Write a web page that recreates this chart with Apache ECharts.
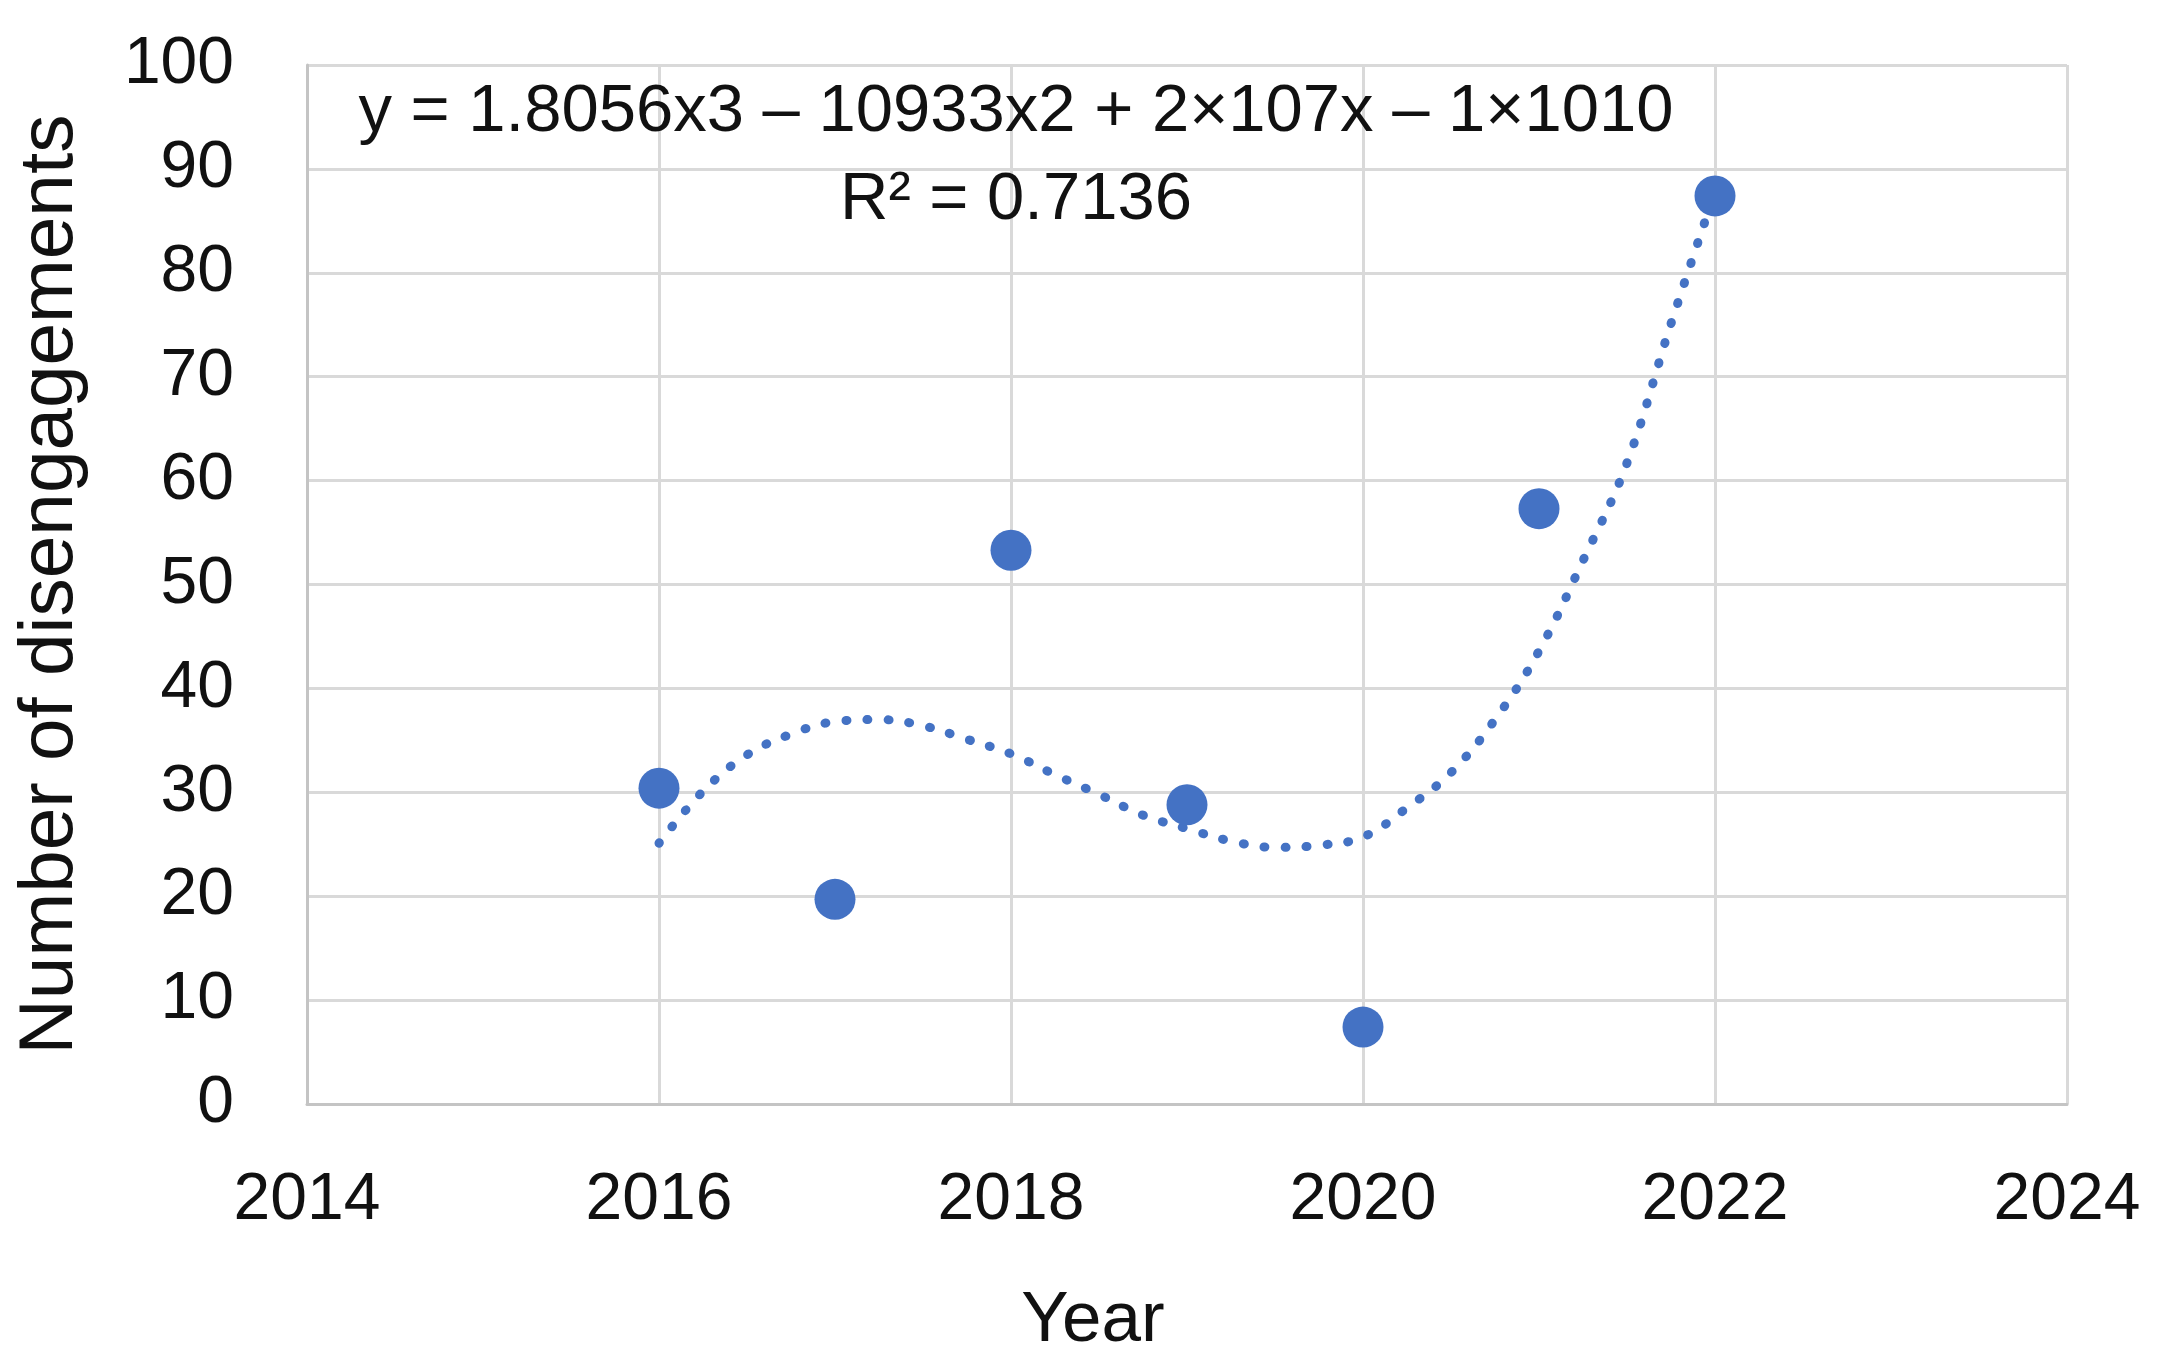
<!DOCTYPE html>
<html>
<head>
<meta charset="utf-8">
<script src="https://cdn.jsdelivr.net/npm/echarts@6/dist/echarts.min.js"></script>
<style>
html,body{margin:0;padding:0;background:#fff;}
#chart{width:2167px;height:1368px;}
</style>
</head>
<body>
<div id="chart"></div>
<script>
// Observed data points
const years = [2016, 2017, 2018, 2019, 2020, 2021, 2022];
const disengagements = [30.4, 19.7, 53.3, 28.8, 7.4, 57.3, 87.4];

// Polynomial (order 3) trendline
const trendYears = [2016, 2016.25, 2016.5, 2016.75, 2017, 2017.25, 2017.5, 2017.75, 2018, 2018.25, 2018.5, 2018.75, 2019, 2019.25, 2019.5, 2019.75, 2020, 2020.25, 2020.5, 2020.75, 2021, 2021.25, 2021.5, 2021.75, 2022];
const trendValues = [25.1, 30.1, 33.6, 35.6, 36.8, 37.0, 36.4, 35.1, 33.7, 31.7, 29.8, 27.8, 26.5, 25.3, 24.7, 24.9, 25.7, 28.5, 31.9, 37.0, 43.6, 52.3, 61.7, 75.1, 87.8];

// Tick labels
const xTicks = [2014, 2016, 2018, 2020, 2022, 2024];
const yTicks = [0, 10, 20, 30, 40, 50, 60, 70, 80, 90, 100];

// Texts
const xTitle = 'Year';
const yTitle = 'Number of disengagements';
const equationText = 'y = 1.8056x3 \u2013 10933x2 + 2\u00d7107x \u2013 1\u00d71010';
const r2Text = 'R\u00b2 = 0.7136';

const FONT = '"Liberation Sans", Arial, sans-serif';
const BLUE = '#4472C4';

const chart = echarts.init(document.getElementById('chart'), null, {renderer: 'canvas'});
chart.setOption({
  animation: false,
  backgroundColor: '#ffffff',
  grid: {left: 307, right: 100, top: 65, bottom: 264, containLabel: false},
  xAxis: {
    type: 'value',
    min: xTicks[0],
    max: xTicks[xTicks.length - 1],
    interval: 2,
    name: xTitle,
    nameLocation: 'middle',
    nameGap: 182,
    nameTextStyle: {fontFamily: FONT, fontSize: 71, color: '#111', padding: [0, 188, 0, 0]},
    axisLine: {show: true, lineStyle: {color: '#c4c4c4', width: 3}},
    axisTick: {show: false},
    splitLine: {show: true, lineStyle: {color: '#d9d9d9', width: 3}},
    axisLabel: {
      margin: 64,
      fontFamily: FONT, fontSize: 66, color: '#111',
      formatter: v => (xTicks.indexOf(v) >= 0 ? String(v) : '')
    }
  },
  yAxis: {
    type: 'value',
    min: yTicks[0],
    max: yTicks[yTicks.length - 1],
    interval: 10,
    name: yTitle,
    nameLocation: 'middle',
    nameRotate: 90,
    nameGap: 218,
    nameTextStyle: {fontFamily: FONT, fontSize: 76.5, color: '#111'},
    axisLine: {show: true, lineStyle: {color: '#c4c4c4', width: 3}},
    axisTick: {show: false},
    splitLine: {show: true, lineStyle: {color: '#d9d9d9', width: 3}},
    axisLabel: {
      margin: 73,
      fontFamily: FONT, fontSize: 66, color: '#111',
      formatter: v => (yTicks.indexOf(v) >= 0 ? String(v) : '')
    }
  },
  graphic: [
    {type: 'text', x: 1016, y: 113, z: 100,
     style: {text: equationText, font: '67px ' + FONT, fill: '#111', textAlign: 'center', textVerticalAlign: 'middle'}},
    {type: 'text', x: 1016, y: 201, z: 100,
     style: {text: r2Text, font: '67px ' + FONT, fill: '#111', textAlign: 'center', textVerticalAlign: 'middle'}}
  ],
  series: [
    {
      name: 'Trendline',
      type: 'line',
      data: trendYears.map((x, i) => [x, trendValues[i]]),
      smooth: 0.4,
      showSymbol: false,
      symbol: 'none',
      lineStyle: {color: BLUE, width: 9, type: [1, 20], cap: 'round'},
      z: 2
    },
    {
      name: 'Disengagements',
      type: 'scatter',
      data: years.map((x, i) => [x, disengagements[i]]),
      symbolSize: 41,
      itemStyle: {color: BLUE, opacity: 1},
      z: 3
    }
  ]
});
</script>
</body>
</html>
